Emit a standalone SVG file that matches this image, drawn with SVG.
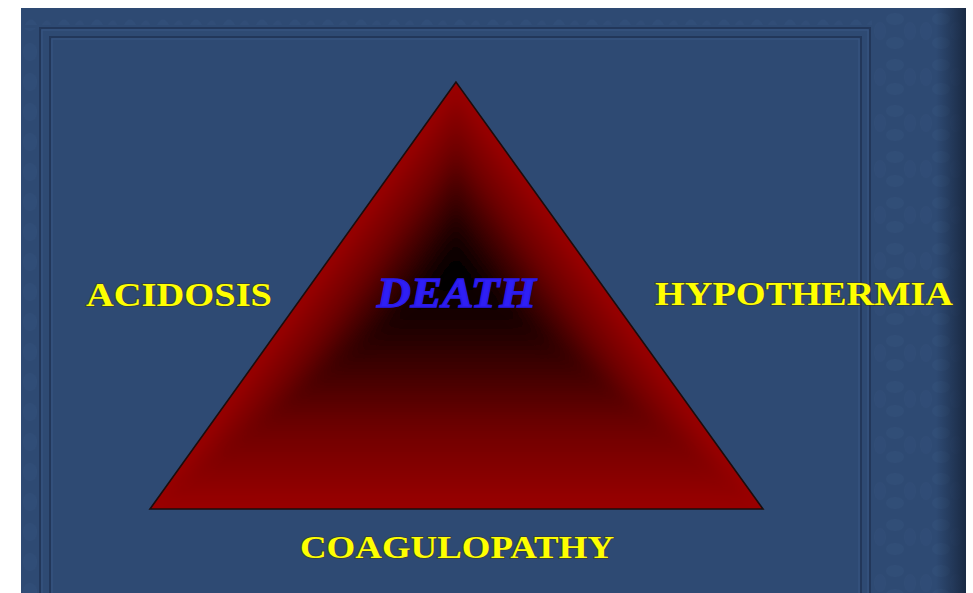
<svg xmlns="http://www.w3.org/2000/svg" width="973" height="593" viewBox="0 0 973 593">
  <style>
    .lbl { font-family: "Liberation Serif", "Times New Roman", serif; font-weight: bold; fill: #ffff00; stroke: #3a3a22; stroke-width: 1.8; stroke-opacity: 0.55; paint-order: stroke; }
    .death { font-family: "Liberation Serif", "Times New Roman", serif; font-weight: bold; font-style: italic; fill: #2f1ff5; stroke: #2a1ae8; stroke-width: 1.3; }
    .frameDark { fill: none; stroke: #22375a; stroke-width: 2; }
    .frameLight { fill: none; stroke: #395684; stroke-width: 1; }
  </style>
  <defs>
    <linearGradient id="gBottom" gradientUnits="userSpaceOnUse" x1="456" y1="509" x2="456" y2="270">
      <stop offset="0" stop-color="#9a0000"/>
      <stop offset="0.35" stop-color="#6c0000"/>
      <stop offset="0.65" stop-color="#320000"/>
      <stop offset="0.87" stop-color="#0a0000"/>
      <stop offset="1" stop-color="#000000"/>
    </linearGradient>
    <linearGradient id="gLeft" gradientUnits="userSpaceOnUse" x1="367" y1="206.2" x2="456" y2="270">
      <stop offset="0" stop-color="#9a0000"/>
      <stop offset="0.35" stop-color="#6c0000"/>
      <stop offset="0.65" stop-color="#320000"/>
      <stop offset="0.87" stop-color="#0a0000"/>
      <stop offset="1" stop-color="#000000"/>
    </linearGradient>
    <linearGradient id="gRight" gradientUnits="userSpaceOnUse" x1="545.1" y1="205.9" x2="456" y2="270">
      <stop offset="0" stop-color="#9a0000"/>
      <stop offset="0.35" stop-color="#6c0000"/>
      <stop offset="0.65" stop-color="#320000"/>
      <stop offset="0.87" stop-color="#0a0000"/>
      <stop offset="1" stop-color="#000000"/>
    </linearGradient>
    <linearGradient id="edgeShade" x1="0" y1="0" x2="1" y2="0">
      <stop offset="0" stop-color="#16243b" stop-opacity="0"/>
      <stop offset="1" stop-color="#16243b" stop-opacity="0.85"/>
    </linearGradient>
    <clipPath id="triClip">
      <polygon points="456,82 150,509 763,509"/>
    </clipPath>
    <filter id="soft" x="-10%" y="-10%" width="120%" height="120%">
      <feGaussianBlur stdDeviation="7"/>
    </filter>
    <pattern id="pTop" patternUnits="userSpaceOnUse" x="21" y="8" width="33" height="20">
      <path d="M4 17 Q10 6 16 17 Z" fill="#3a5885" opacity="0.3"/>
      <path d="M21 17 Q26 8 30 17 Z" fill="#3a5885" opacity="0.22"/>
    </pattern>
    <pattern id="pLeft" patternUnits="userSpaceOnUse" x="21" y="8" width="19" height="30">
      <ellipse cx="9" cy="14" rx="7" ry="9" fill="#385682" opacity="0.25"/>
    </pattern>
    <pattern id="pRight" patternUnits="userSpaceOnUse" x="872" y="8" width="46" height="46">
      <ellipse cx="23" cy="11" rx="9" ry="6" fill="#375581" opacity="0.3"/>
      <ellipse cx="23" cy="35" rx="9" ry="6" fill="#375581" opacity="0.3"/>
      <ellipse cx="8" cy="23" rx="6" ry="9" fill="#375581" opacity="0.25"/>
      <ellipse cx="38" cy="23" rx="6" ry="9" fill="#375581" opacity="0.25"/>
    </pattern>
  </defs>

  <!-- page -->
  <rect x="0" y="0" width="973" height="593" fill="#ffffff"/>
  <rect x="21" y="8" width="945" height="585" fill="#2e4a73"/>

  <!-- decorative borders -->
  <rect x="21" y="8" width="851" height="20" fill="url(#pTop)"/>
  <rect x="21" y="28" width="19" height="565" fill="url(#pLeft)"/>
  <rect x="872" y="8" width="94" height="585" fill="url(#pRight)"/>
  <rect x="40" y="28" width="830" height="580" class="frameDark"/>
  <rect x="42" y="30" width="826" height="580" class="frameLight"/>
  <rect x="50" y="37" width="811" height="570" class="frameDark"/>
  <rect x="52" y="39" width="807" height="570" class="frameLight"/>
  <rect x="936" y="8" width="30" height="585" fill="url(#edgeShade)"/>

  <!-- triangle -->
  <g id="triangle">
    <g clip-path="url(#triClip)">
      <polygon points="456,82 150,509 763,509" fill="#9a0000"/>
      <g filter="url(#soft)">
        <polygon points="456,270 456,40 90,556" fill="url(#gLeft)"/>
        <polygon points="456,270 822,556 456,40" fill="url(#gRight)"/>
        <polygon points="456,270 90,556 822,556" fill="url(#gBottom)"/>
      </g>
    </g>
    <polygon points="456,82 150,509 763,509" fill="none" stroke="#1c0c0c" stroke-width="1.6"/>
  </g>

  <g id="death">
    <text class="death" x="377" y="307" font-size="42" textLength="159" lengthAdjust="spacingAndGlyphs">DEATH</text>
  </g>
  <g id="acidosis">
    <text class="lbl" x="86" y="306" font-size="33" textLength="186" lengthAdjust="spacingAndGlyphs">ACIDOSIS</text>
  </g>
  <g id="hypothermia">
    <text class="lbl" x="655" y="305" font-size="33" textLength="298" lengthAdjust="spacingAndGlyphs">HYPOTHERMIA</text>
  </g>
  <g id="coagulopathy">
    <text class="lbl" x="300" y="558" font-size="31" textLength="314" lengthAdjust="spacingAndGlyphs">COAGULOPATHY</text>
  </g>
  <g id="connectors"/>
</svg>
